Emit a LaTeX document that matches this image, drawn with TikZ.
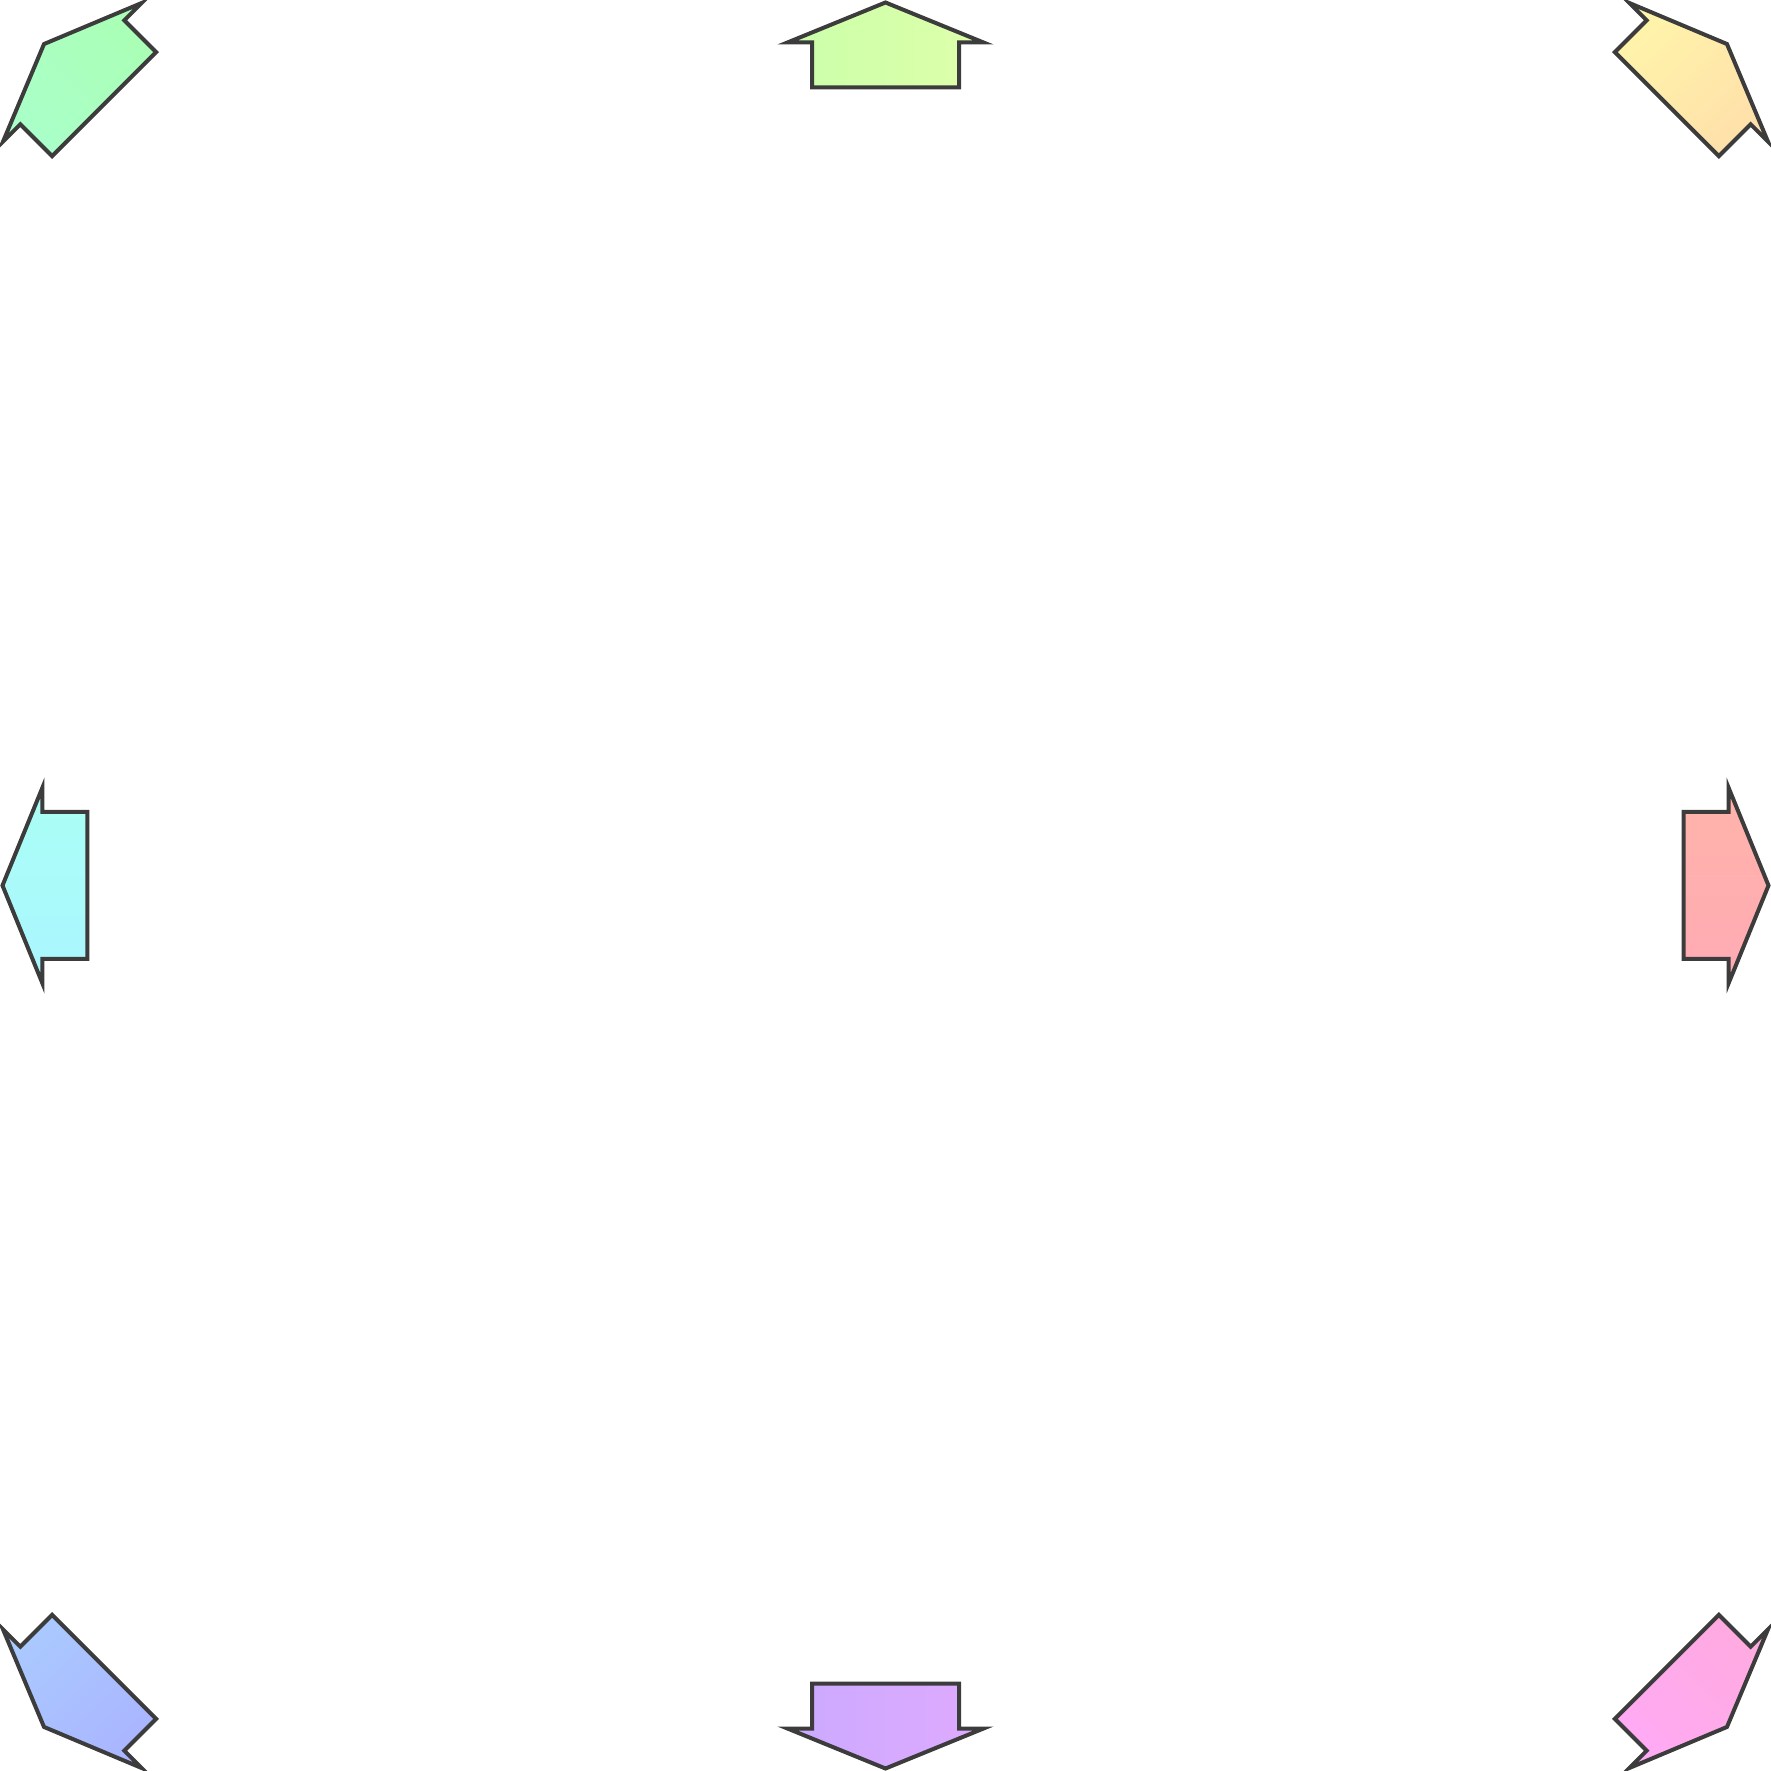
\documentclass[tikz,border=0pt]{standalone}
\usetikzlibrary{calc}
\definecolor{edgegray}{RGB}{60,60,60}
\tikzset{arrowshape/.style={draw=edgegray, line width=4pt, line join=miter}}
\begin{document}
\begin{tikzpicture}[x=1pt,y=1pt]
\useasboundingbox (-885.5,-885.5) rectangle (885.5,885.5);
\foreach \a/\r in {0/883,45/1190,90/883,135/1190,180/883,225/1190,270/883,315/1190}{
  \pgfmathsetmacro\aL{\a+90}
  \pgfmathsetmacro\aR{\a-90}
  \pgfmathsetmacro\hA{mod(\a+7,360)}
  \pgfmathsetmacro\hB{mod(\a+353,360)}
  \definecolor{hA}{Hsb}{\hA,0.333,1}
  \definecolor{hB}{Hsb}{\hB,0.333,1}
  \colorlet{cA}[rgb]{hA}
  \colorlet{cB}[rgb]{hB}
  \coordinate (T) at (\a:\r);
  \shade[arrowshape, left color=cA, right color=cB, shading angle=\a]
    (T) -- ($(T)+(\a:-40)+(\aL:98)$) -- ($(T)+(\a:-40)+(\aL:73.5)$)
    -- ($(T)+(\a:-85)+(\aL:73.5)$) -- ($(T)+(\a:-85)+(\aR:73.5)$)
    -- ($(T)+(\a:-40)+(\aR:73.5)$) -- ($(T)+(\a:-40)+(\aR:98)$) -- cycle;
}
\end{tikzpicture}
\end{document}
